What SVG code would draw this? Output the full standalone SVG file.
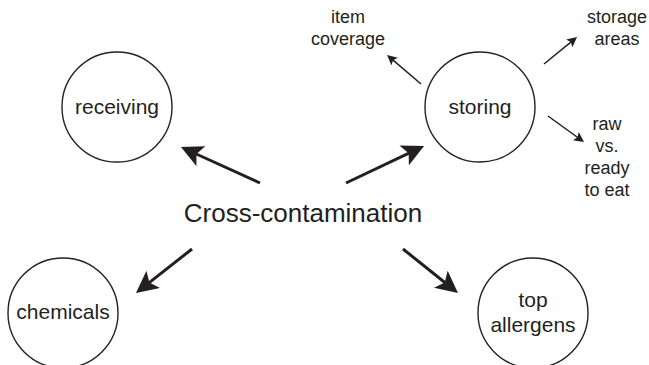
<svg xmlns="http://www.w3.org/2000/svg" width="649" height="365" viewBox="0 0 649 365">
<style>
  .node { fill: #fff; stroke: #222; stroke-width: 1.4; }
  .lbl { font-family: "Liberation Sans", Arial, Helvetica, sans-serif; fill: #231f20; text-anchor: middle; }
  .n { font-size: 21px; }
  .s { font-size: 18px; }
  .big { stroke: #231f20; stroke-width: 3; fill: none; marker-end: url(#ah); }
  .thin { stroke: #231f20; stroke-width: 1.5; fill: none; marker-end: url(#ahs); }
</style>
<defs>
  <marker id="ah" markerUnits="userSpaceOnUse" viewBox="0 0 22 22" markerWidth="22" markerHeight="22" refX="10" refY="11" orient="auto">
    <path d="M22,11 L0,0 L5,11 L0,22 Z" fill="#231f20"/>
  </marker>
  <marker id="ahs" markerUnits="userSpaceOnUse" viewBox="0 0 10 10" markerWidth="11" markerHeight="10" refX="4" refY="5" orient="auto">
    <path d="M10,5 L0,0 L2,5 L0,10 Z" fill="#231f20"/>
  </marker>
</defs>
<rect width="649" height="365" fill="#fff"/>
<g id="connectors">
  <path class="big" d="M260,183 L191.9,152"/>
  <path class="big" d="M346,183 L413.2,151.1"/>
  <path class="big" d="M192,249 L145.4,285.6"/>
  <path class="big" d="M403,249 L448.6,285.5"/>
  <path class="thin" d="M421,84 L391.6,58.9"/>
  <path class="thin" d="M544,64 L572.4,40.8"/>
  <path class="thin" d="M548,116 L579.1,138.5"/>
</g>
<g id="center">
  <text class="lbl" x="303" y="222" font-size="26">Cross-contamination</text>
</g>
<g id="receiving">
  <circle class="node" cx="117" cy="107" r="55"/>
  <text class="lbl n" x="117" y="114">receiving</text>
</g>
<g id="storing">
  <circle class="node" cx="480" cy="107" r="55"/>
  <text class="lbl n" x="480" y="114">storing</text>
</g>
<g id="chemicals">
  <circle class="node" cx="63" cy="313" r="55"/>
  <text class="lbl n" x="63" y="319">chemicals</text>
</g>
<g id="top-allergens">
  <circle class="node" cx="533" cy="313" r="55"/>
  <text class="lbl n" x="533" y="307">top</text>
  <text class="lbl n" x="533" y="332">allergens</text>
</g>
<g id="item-coverage">
  <text class="lbl s" x="348" y="23">item</text>
  <text class="lbl s" x="348" y="45">coverage</text>
</g>
<g id="storage-areas">
  <text class="lbl s" x="617" y="23">storage</text>
  <text class="lbl s" x="617" y="45">areas</text>
</g>
<g id="raw-vs-ready">
  <text class="lbl s" x="607" y="130">raw</text>
  <text class="lbl s" x="607" y="152">vs.</text>
  <text class="lbl s" x="607" y="174">ready</text>
  <text class="lbl s" x="607" y="196">to eat</text>
</g>
</svg>
